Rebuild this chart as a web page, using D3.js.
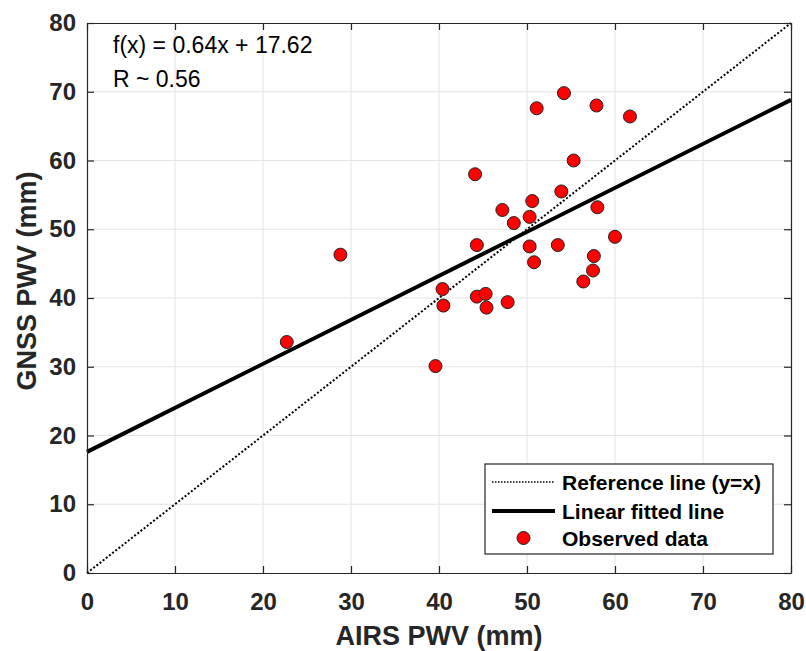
<!DOCTYPE html>
<html>
<head>
<meta charset="utf-8">
<script src="https://cdn.jsdelivr.net/npm/d3@7"></script>
<style>
  body { margin: 0; background: #fff; }
  svg text { font-family: "Liberation Sans", Arial, sans-serif; }
</style>
</head>
<body>
<div id="chart"></div>
<script>
// Observed data (AIRS PWV vs GNSS PWV, mm)
var airs = [22.7, 28.8, 39.6, 40.4, 40.5, 44.1, 44.3, 44.3, 45.3, 45.4, 47.8, 47.2, 48.5, 50.6, 50.3,
            50.3, 50.8, 51.1, 54.2, 57.9, 61.7, 55.3, 53.9, 58.0, 53.5, 60.0, 57.6, 57.5, 56.4];
var gnss = [33.6, 46.3, 30.1, 41.3, 38.9, 58.0, 47.7, 40.2, 40.6, 38.6, 39.4, 52.8, 50.9, 54.1, 51.8,
            47.5, 45.2, 67.6, 69.8, 68.0, 66.4, 60.0, 55.5, 53.2, 47.7, 48.9, 46.1, 44.0, 42.4];
var slope = 0.64;
var intercept = 17.62;
var ticks = [0, 10, 20, 30, 40, 50, 60, 70, 80];
var legendLabels = ["Reference line (y=x)", "Linear fitted line", "Observed data"];

function init() {
    var w = 806, h = 651;
    var left = 87, right = 791, top = 23, bottom = 573;
    var axisColor = "#262626";

    var svg = d3.select("#chart").append("svg")
        .attr("width", w).attr("height", h);

    var x = d3.scaleLinear().domain([0, 80]).range([left, right]);
    var y = d3.scaleLinear().domain([0, 80]).range([bottom, top]);

    // grid
    var grid = svg.append("g");
    grid.selectAll(".gx").data(ticks.slice(1, -1)).enter().append("line")
        .attr("x1", d => x(d)).attr("x2", d => x(d))
        .attr("y1", top).attr("y2", bottom)
        .attr("stroke", "#e3e3e3").attr("stroke-width", 1);
    grid.selectAll(".gy").data(ticks.slice(1, -1)).enter().append("line")
        .attr("y1", d => y(d)).attr("y2", d => y(d))
        .attr("x1", left).attr("x2", right)
        .attr("stroke", "#e3e3e3").attr("stroke-width", 1);

    // reference line y = x
    svg.append("line")
        .attr("x1", x(0)).attr("y1", y(0)).attr("x2", x(80)).attr("y2", y(80))
        .attr("stroke", "#000").attr("stroke-width", 2)
        .attr("stroke-dasharray", "2,2");

    // fitted line
    svg.append("line")
        .attr("x1", x(0)).attr("y1", y(intercept))
        .attr("x2", x(80)).attr("y2", y(slope * 80 + intercept))
        .attr("stroke", "#000").attr("stroke-width", 4);

    // points
    svg.selectAll("circle.pt").data(airs).enter().append("circle")
        .attr("class", "pt")
        .attr("cx", d => x(d))
        .attr("cy", (d, i) => y(gnss[i]))
        .attr("r", 6.5)
        .attr("fill", "#ff0000")
        .attr("stroke", "#222").attr("stroke-width", 1);

    // axes (inward ticks, box)
    var axB = svg.append("g").attr("transform", "translate(0," + bottom + ")")
        .call(d3.axisBottom(x).tickValues(ticks).tickSizeInner(-7).tickSizeOuter(0).tickPadding(20));
    var axL = svg.append("g").attr("transform", "translate(" + left + ",0)")
        .call(d3.axisLeft(y).tickValues(ticks).tickSizeInner(-7).tickSizeOuter(0).tickPadding(11));
    var axT = svg.append("g").attr("transform", "translate(0," + top + ")")
        .call(d3.axisTop(x).tickValues(ticks).tickSizeInner(-7).tickSizeOuter(0).tickFormat(""));
    var axR = svg.append("g").attr("transform", "translate(" + right + ",0)")
        .call(d3.axisRight(y).tickValues(ticks).tickSizeInner(-7).tickSizeOuter(0).tickFormat(""));
    [axB, axL, axT, axR].forEach(function(g) {
        g.selectAll("path, line").attr("stroke", axisColor).attr("stroke-width", 1.2);
        g.selectAll("text").attr("fill", axisColor)
            .style("font-size", "24px").style("font-weight", "bold")
            .style("font-family", "'Liberation Sans', Arial, sans-serif");
    });

    // axis titles
    svg.append("text")
        .attr("x", (left + right) / 2).attr("y", 645)
        .attr("text-anchor", "middle").attr("fill", axisColor)
        .style("font-size", "27px").style("font-weight", "bold")
        .text("AIRS PWV (mm)");
    svg.append("text")
        .attr("transform", "translate(36,281) rotate(-90)")
        .attr("text-anchor", "middle").attr("fill", axisColor)
        .style("font-size", "27px").style("font-weight", "bold")
        .text("GNSS PWV (mm)");

    // annotation
    svg.append("text").attr("x", 113).attr("y", 53)
        .style("font-size", "23px").attr("fill", "#000")
        .text("f(x) = " + slope.toFixed(2) + "x + " + intercept.toFixed(2));
    svg.append("text").attr("x", 113).attr("y", 87)
        .style("font-size", "23px").attr("fill", "#000")
        .text("R ~ 0.56");

    // legend
    var lg = svg.append("g");
    lg.append("rect").attr("x", 485).attr("y", 464).attr("width", 288).attr("height", 90)
        .attr("fill", "#fff").attr("stroke", axisColor).attr("stroke-width", 1.2);
    var rows = [482, 511, 538];
    lg.append("line").attr("x1", 492).attr("x2", 555).attr("y1", rows[0]).attr("y2", rows[0])
        .attr("stroke", "#000").attr("stroke-width", 1.5).attr("stroke-dasharray", "1.5,1.5");
    lg.append("line").attr("x1", 492).attr("x2", 555).attr("y1", rows[1]).attr("y2", rows[1])
        .attr("stroke", "#000").attr("stroke-width", 4);
    lg.append("circle").attr("cx", 523.5).attr("cy", rows[2]).attr("r", 6.5)
        .attr("fill", "#ff0000").attr("stroke", "#222").attr("stroke-width", 1);
    lg.selectAll("text.lg").data(legendLabels).enter().append("text")
        .attr("class", "lg")
        .attr("x", 562).attr("y", (d, i) => rows[i])
        .attr("dy", "0.36em")
        .style("font-size", "21px").style("font-weight", "bold")
        .attr("fill", "#000")
        .text(d => d);
}

window.onload = init;
</script>
</body>
</html>
